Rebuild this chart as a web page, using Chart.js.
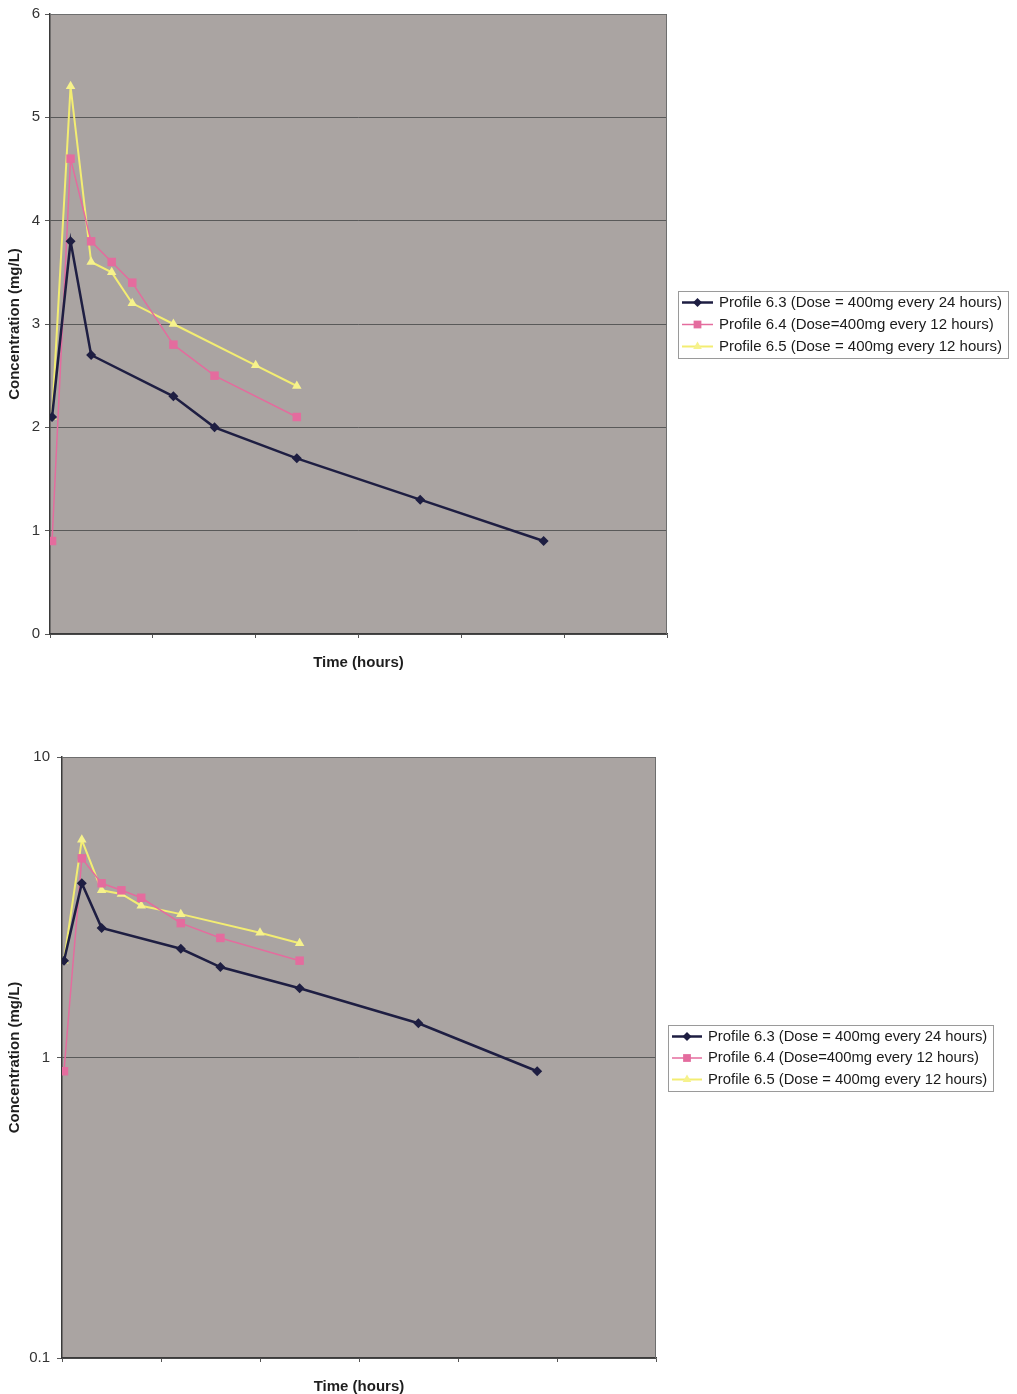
<!DOCTYPE html>
<html>
<head>
<meta charset="utf-8">
<script src="https://cdn.jsdelivr.net/npm/chart.js@4.4.1/dist/chart.umd.min.js"></script>
<style>
  body { margin: 0; background: #ffffff; }
  .wrap { position: relative; width: 1017px; height: 1394px; overflow: hidden; }
  canvas { position: absolute; left: 0; }
  #linChart { top: 0; }
  #logChart { top: 700px; }
</style>
</head>
<body>
<div class="wrap">
  <canvas id="linChart" width="1017" height="690"></canvas>
  <canvas id="logChart" width="1017" height="697"></canvas>
</div>
<script>
// sampling times (hours) and concentrations (mg/L)
const times63 = [0.1, 1, 2, 6, 8, 12, 18, 24];
const conc63 = [2.1, 3.8, 2.7, 2.3, 2.0, 1.7, 1.3, 0.9];
const times64 = [0.1, 1, 2, 3, 4, 6, 8, 12];
const conc64 = [0.9, 4.6, 3.8, 3.6, 3.4, 2.8, 2.5, 2.1];
const times65 = [0.1, 1, 2, 3, 4, 6, 10, 12];
const conc65 = [2.1, 5.3, 3.6, 3.5, 3.2, 3.0, 2.6, 2.4];

const seriesNames = [
  "Profile 6.3 (Dose = 400mg every 24 hours)",
  "Profile 6.4 (Dose=400mg every 12 hours)",
  "Profile 6.5 (Dose = 400mg every 12 hours)"
];
const linTicks = [0, 1, 2, 3, 4, 5, 6];
const logTicks = [0.1, 1, 10];
const timeTicks = [0, 5, 10, 15, 20, 25, 30];

const FONT = "Arial, 'Liberation Sans', sans-serif";
const FS = 15;

function pairs(xs, ys) {
  return xs.map((x, i) => ({ x: x, y: ys[i] }));
}

function makeDatasets() {
  return [
    {
      label: seriesNames[0],
      data: pairs(times63, conc63),
      borderColor: "#1e1e42",
      backgroundColor: "#1e1e42",
      borderWidth: 2.5,
      pointStyle: "rectRot",
      pointRadius: 5,
      pointBorderWidth: 0
    },
    {
      label: seriesNames[1],
      data: pairs(times64, conc64),
      borderColor: "#e46c9e",
      backgroundColor: "#e46c9e",
      borderWidth: 1.5,
      pointStyle: "rect",
      pointRadius: 6,
      pointBorderWidth: 0
    },
    {
      label: seriesNames[2],
      data: pairs(times65, conc65),
      borderColor: "#f3ed72",
      backgroundColor: "#f6f28c",
      borderWidth: 2,
      pointStyle: "triangle",
      pointRadius: 5.5,
      pointBorderWidth: 0
    }
  ];
}

// grey plot area plus its frame
const plotBackground = {
  id: "plotBackground",
  beforeDraw(chart) {
    const a = chart.chartArea;
    const ctx = chart.ctx;
    ctx.save();
    ctx.fillStyle = "#aaa4a2";
    ctx.fillRect(a.left, a.top, a.right - a.left, a.bottom - a.top);
    ctx.restore();
  },
  afterDraw(chart) {
    const a = chart.chartArea;
    const ctx = chart.ctx;
    ctx.save();
    ctx.strokeStyle = "#6e6e6e";
    ctx.lineWidth = 1;
    ctx.beginPath();
    ctx.moveTo(a.left, a.top + 0.5);
    ctx.lineTo(a.right - 0.5, a.top + 0.5);
    ctx.lineTo(a.right - 0.5, a.bottom);
    ctx.stroke();
    ctx.restore();
  }
};

// boxed legend to the right of the plot, line + marker per series
const sideLegend = {
  id: "sideLegend",
  afterDraw(chart, args, opts) {
    const a = chart.chartArea;
    const ctx = chart.ctx;
    const sets = chart.data.datasets;
    ctx.save();
    ctx.font = opts.fontSize + "px " + FONT;
    const tw = Math.max(...sets.map(d => ctx.measureText(d.label).width));
    const w = opts.textX + tw + 6;
    const h = opts.rowGap * sets.length + 1;
    const left = a.right + opts.gap;
    const top = (a.top + a.bottom) / 2 - h / 2;

    ctx.fillStyle = "#ffffff";
    ctx.fillRect(left, top, w, h);
    ctx.strokeStyle = "#9a9a9a";
    ctx.lineWidth = 1;
    ctx.strokeRect(Math.round(left) + 0.5, Math.round(top) + 0.5, Math.round(w), Math.round(h));

    sets.forEach((d, i) => {
      const y = top + opts.rowGap * (i + 0.5) + 1;
      const x0 = left + 4;
      const x1 = left + opts.textX - 6;
      ctx.strokeStyle = d.borderColor;
      ctx.lineWidth = d.borderWidth;
      ctx.beginPath();
      ctx.moveTo(x0, y);
      ctx.lineTo(x1, y);
      ctx.stroke();
      ctx.fillStyle = d.backgroundColor;
      ctx.strokeStyle = d.backgroundColor;
      Chart.helpers.drawPoint(ctx, {
        pointStyle: d.pointStyle,
        radius: d.pointRadius - 0.5,
        rotation: 0,
        borderWidth: 0
      }, (x0 + x1) / 2, y);
      ctx.fillStyle = "#1a1a1a";
      ctx.textBaseline = "middle";
      ctx.textAlign = "left";
      ctx.fillText(d.label, left + opts.textX, y);
    });
    ctx.restore();
  }
};

function xScale(height) {
  return {
    type: "linear",
    min: 0,
    max: 30,
    afterBuildTicks: s => { s.ticks = timeTicks.map(v => ({ value: v })); },
    afterFit: s => { s.height = height; },
    ticks: { display: false },
    grid: { drawOnChartArea: false, drawTicks: true, tickLength: 4, color: "#555555" },
    border: { color: "#3a3a3a", width: 1.5 },
    title: {
      display: true,
      text: "Time (hours)",
      color: "#1e1e1e",
      font: { family: FONT, size: FS, weight: "bold" },
      padding: { top: 0, bottom: 0 }
    }
  };
}

function yTitle() {
  return {
    display: true,
    text: "Concentration (mg/L)",
    color: "#1e1e1e",
    font: { family: FONT, size: FS, weight: "bold" },
    padding: { top: 6, bottom: 0 }
  };
}

function linearChart() {
  const ctx = document.getElementById("linChart");
  new Chart(ctx, {
    type: "line",
    data: { datasets: makeDatasets() },
    options: {
      responsive: false,
      animation: false,
      devicePixelRatio: 1,
      layout: { padding: { top: 14, right: 350, bottom: 18, left: 0 } },
      plugins: {
        legend: { display: false },
        tooltip: { enabled: false },
        sideLegend: { gap: 11, textX: 41, rowGap: 22, fontSize: 15 }
      },
      scales: {
        x: xScale(38),
        y: {
          type: "linear",
          min: 0,
          max: 6,
          afterBuildTicks: s => { s.ticks = linTicks.map(v => ({ value: v })); },
          afterFit: s => { s.width = 50; },
          ticks: {
            color: "#333333",
            padding: 5,
            font: { family: FONT, size: FS }
          },
          grid: { color: "#595959", lineWidth: 1, tickLength: 5 },
          border: { color: "#3a3a3a", width: 1.5 },
          title: yTitle()
        }
      }
    },
    plugins: [plotBackground, sideLegend]
  });
}

function logChart() {
  const ctx = document.getElementById("logChart");
  new Chart(ctx, {
    type: "line",
    data: { datasets: makeDatasets() },
    options: {
      responsive: false,
      animation: false,
      devicePixelRatio: 1,
      layout: { padding: { top: 57, right: 361, bottom: 1, left: 0 } },
      plugins: {
        legend: { display: false },
        tooltip: { enabled: false },
        sideLegend: { gap: 12, textX: 40, rowGap: 21.5, fontSize: 14.8 }
      },
      scales: {
        x: xScale(38),
        y: {
          type: "logarithmic",
          min: 0.1,
          max: 10,
          afterBuildTicks: s => { s.ticks = logTicks.map(v => ({ value: v })); },
          afterFit: s => { s.width = 62; },
          ticks: {
            color: "#333333",
            padding: 7,
            font: { family: FONT, size: FS },
            callback: v => String(v)
          },
          grid: { color: "#595959", lineWidth: 1, tickLength: 5 },
          border: { color: "#3a3a3a", width: 1.5 },
          title: yTitle()
        }
      }
    },
    plugins: [plotBackground, sideLegend]
  });
}

linearChart();
logChart();
</script>
</body>
</html>
